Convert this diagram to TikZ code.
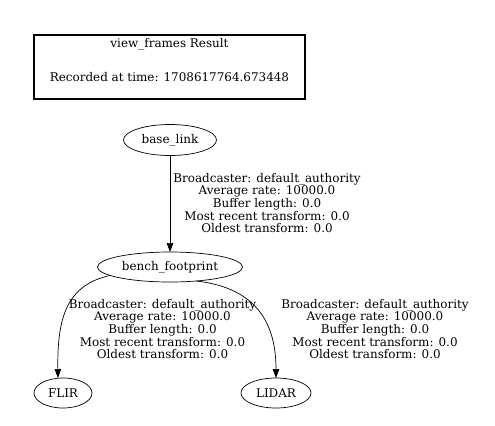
\documentclass[tikz,border=0pt]{standalone}
\usepackage{fontspec}
\setmainfont{DejaVu Serif}
\usetikzlibrary{shapes.geometric,arrows.meta}
\begin{document}
\begin{tikzpicture}[x=1bp,y=-1bp,
  every node/.style={inner sep=0pt,outer sep=0pt},
  frame/.style={ellipse,draw,line width=0.7bp,font=\fontsize{12}{12}\selectfont},
  lbl/.style={align=center,font=\fontsize{12}{12.7}\selectfont},
  edge/.style={draw,line width=0.7bp,-{Triangle[length=9bp,width=6.5bp]}},
  txt/.style={font=\fontsize{12}{12}\selectfont}]
\useasboundingbox (0,0) rectangle (495,425);
\node[draw,line width=1.4bp,minimum width=271bp,minimum height=64bp] (result) at (169.5,67) {};
\node[txt] (title) at (169.5,44) {view\_frames Result};
\node[txt] (time) at (169.5,77) {Recorded at time: 1708617764.673448};
\node[frame,minimum width=93bp,minimum height=31bp] (base) at (170,140) {base\_link};
\node[frame,minimum width=145bp,minimum height=30bp] (bench) at (170,267) {bench\_footprint};
\node[frame,minimum width=58bp,minimum height=30bp] (flir) at (63,393) {FLIR};
\node[frame,minimum width=70bp,minimum height=30bp] (lidar) at (276,393) {LIDAR};
\node[lbl] (l1) at (267,203) {Broadcaster: default\_authority\\Average rate: 10000.0\\Buffer length: 0.0\\Most recent transform: 0.0\\Oldest transform: 0.0};
\node[lbl] (l2) at (162.5,329) {Broadcaster: default\_authority\\Average rate: 10000.0\\Buffer length: 0.0\\Most recent transform: 0.0\\Oldest transform: 0.0};
\node[lbl] (l3) at (375,329) {Broadcaster: default\_authority\\Average rate: 10000.0\\Buffer length: 0.0\\Most recent transform: 0.0\\Oldest transform: 0.0};
\path[edge] (base) -- (bench);
\path[edge] (bench.188) .. controls (68,285) and (57,315) .. (flir.north -| 58,0);
\path[edge] (bench.-28) .. controls (258,288) and (276,325) .. (lidar.north);
\end{tikzpicture}
\end{document}
